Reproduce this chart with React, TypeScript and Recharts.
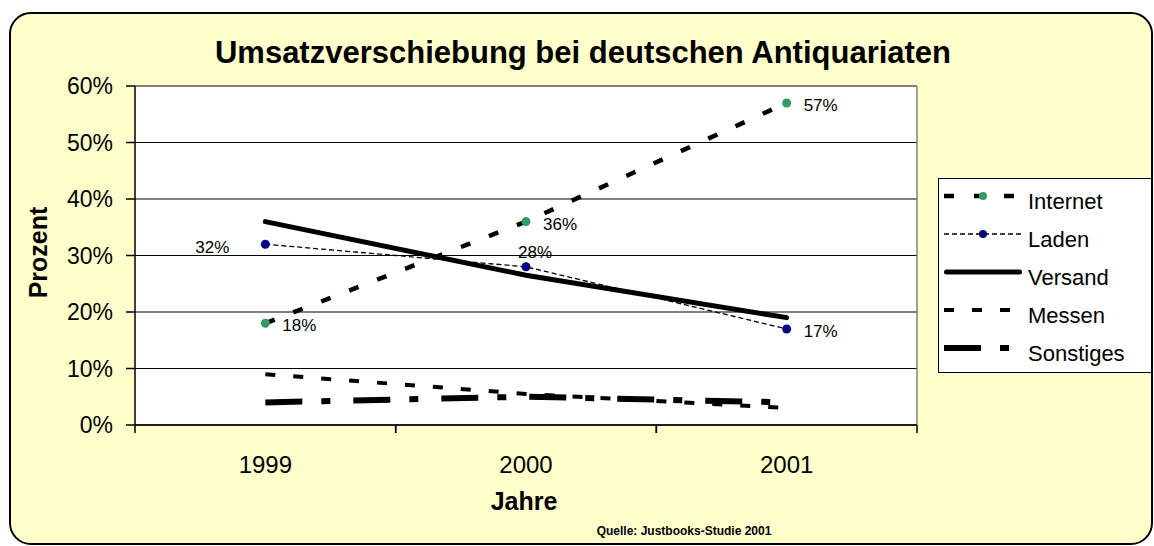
import React from 'react';
import { LineChart, Line, XAxis, YAxis, CartesianGrid, Legend, LabelList, ReferenceLine } from 'recharts';

const years = ['1999', '2000', '2001'];
const internet = [18, 36, 57];
const laden = [32, 28, 17];
const versand = [36, 26.5, 19];
const messen = [9, 5.5, 3];
const sonstiges = [4, 5, 4];
const yTicks = [0, 10, 20, 30, 40, 50, 60];
const seriesOrder = ['Internet', 'Laden', 'Versand', 'Messen', 'Sonstiges'];

const data = years.map((year, i) => ({
  year,
  Internet: internet[i],
  Laden: laden[i],
  Versand: versand[i],
  Messen: messen[i],
  Sonstiges: sonstiges[i],
}));

const FONT = '"Liberation Sans", Arial, sans-serif';

const seriesStyle: Record<string, { width: number; dash?: string; dot?: string; cap?: 'butt' | 'round' }> = {
  Internet: { width: 4.5, dash: '10 20', dot: '#339966' },
  Laden: { width: 1.3, dash: '5 3', dot: '#000080' },
  Versand: { width: 5, cap: 'round' },
  Messen: { width: 4, dash: '10 18' },
  Sonstiges: { width: 6, dash: '37 19 9 23' },
};

const XTick = (props: any) => {
  const { x, y, payload } = props;
  const half = payload && typeof payload.offset === 'number' ? payload.offset : 0;
  return (
    <g>
      <line x1={x - half} x2={x - half} y1={y} y2={y + 8} stroke="#000" strokeWidth={1.5} />
      <line x1={x + half} x2={x + half} y1={y} y2={y + 8} stroke="#000" strokeWidth={1.5} />
      <text x={x} y={y + 48} textAnchor="middle" fontSize={24} fontFamily={FONT} fill="#000">
        {payload.value}
      </text>
    </g>
  );
};

const pos = (p: any) => ({
  x: p.viewBox && typeof p.viewBox.x === 'number' ? p.viewBox.x : p.x,
  y: p.viewBox && typeof p.viewBox.y === 'number' ? p.viewBox.y : p.y,
});

const InternetLabel = (p: any) => {
  const { x, y } = pos(p);
  return (
    <text x={x + 17} y={y + 8} fontSize={17} fontFamily={FONT} fill="#000">
      {p.value}%
    </text>
  );
};

const LadenLabel = (p: any) => {
  const { x, y } = pos(p);
  const i = p.index;
  const cfg =
    i === 0
      ? { dx: -36, dy: 9, anchor: 'end' }
      : i === 1
      ? { dx: 9, dy: -9, anchor: 'middle' }
      : { dx: 17, dy: 8, anchor: 'start' };
  return (
    <text x={x + cfg.dx} y={y + cfg.dy} textAnchor={cfg.anchor as any} fontSize={17} fontFamily={FONT} fill="#000">
      {p.value}%
    </text>
  );
};

const LegendBox = (props: any) => {
  const items = [...(props.payload || [])].sort(
    (a: any, b: any) => seriesOrder.indexOf(a.value) - seriesOrder.indexOf(b.value)
  );
  return (
    <svg width={214} height={195} style={{ display: 'block' }}>
      <rect x={0.5} y={0.5} width={213} height={194} fill="#fff" stroke="#000" strokeWidth={1} />
      {items.map((it: any, i: number) => {
        const s = seriesStyle[it.value];
        const cy = 18 + 38 * i;
        const inset = s.cap === 'round' ? s.width / 2 : 0;
        return (
          <g key={it.value}>
            <line
              x1={6 + inset}
              x2={84 - inset}
              y1={cy}
              y2={cy}
              stroke="#000"
              strokeWidth={s.width}
              strokeDasharray={s.dash}
              strokeLinecap={s.cap || 'butt'}
            />
            {s.dot && <circle cx={45} cy={cy} r={4} fill={s.dot} />}
            <text x={90} y={cy + 13} fontSize={22} fontFamily={FONT} fill="#000">
              {it.value}
            </text>
          </g>
        );
      })}
    </svg>
  );
};

export default function App() {
  return (
    <div style={{ position: 'absolute', left: 0, top: 0, width: 1154, height: 546, overflow: 'hidden', fontFamily: FONT }}>
      <div
        style={{
          position: 'absolute',
          left: 9,
          top: 12,
          width: 1144,
          height: 533,
          boxSizing: 'border-box',
          border: '2px solid #000',
          borderRadius: 22,
          background: '#FFFFCC',
        }}
      />
      <div style={{ position: 'absolute', left: 0, top: 0 }}>
        <LineChart width={1154} height={546} data={data} margin={{ top: 86, right: 237, bottom: 0, left: 0 }}>
          <CartesianGrid vertical={false} stroke="#000" strokeWidth={1.2} fill="#fff" fillOpacity={1} />
          <CartesianGrid
            horizontal={false}
            stroke="#808080"
            strokeWidth={1.5}
            verticalCoordinatesGenerator={(p: any) => [p.offset.left + p.offset.width]}
          />
          <ReferenceLine y={60} stroke="#808080" strokeWidth={1.5} />
          <XAxis
            dataKey="year"
            scale="band"
            height={121}
            axisLine={{ stroke: '#000', strokeWidth: 1.5 }}
            tickLine={false}
            tickSize={0}
            tickMargin={0}
            interval={0}
            tick={<XTick />}
            label={{
              content: (p: any) => (
                <text
                  x={p.viewBox.x + p.viewBox.width / 2 - 2}
                  y={p.viewBox.y + 85}
                  textAnchor="middle"
                  fontSize={25}
                  fontWeight="bold"
                  fontFamily={FONT}
                  fill="#000"
                >
                  Jahre
                </text>
              ),
            }}
          />
          <YAxis
            width={135}
            domain={[0, 60]}
            ticks={yTicks}
            interval={0}
            tickFormatter={(v: number) => `${v}%`}
            axisLine={{ stroke: '#000', strokeWidth: 1.5 }}
            tickLine={{ stroke: '#000', strokeWidth: 1.5 }}
            tickSize={9}
            tickMargin={13}
            tick={{ fontSize: 23, fill: '#000', fontFamily: FONT }}
            label={{
              content: (p: any) => {
                const cx = 47;
                const cy = p.viewBox.y + p.viewBox.height / 2 - 3;
                return (
                  <text
                    x={cx}
                    y={cy}
                    transform={`rotate(-90 ${cx} ${cy})`}
                    textAnchor="middle"
                    fontSize={25}
                    fontWeight="bold"
                    fontFamily={FONT}
                    fill="#000"
                  >
                    Prozent
                  </text>
                );
              },
            }}
          />
          <Legend
            layout="vertical"
            align="center"
            verticalAlign="middle"
            wrapperStyle={{ left: 938, top: 178, width: 214, height: 195 }}
            content={<LegendBox />}
          />
          <Line
            dataKey="Messen"
            name="Messen"
            type="linear"
            stroke="#000"
            strokeWidth={seriesStyle.Messen.width}
            strokeDasharray={seriesStyle.Messen.dash}
            dot={false}
            activeDot={false}
            isAnimationActive={false}
          />
          <Line
            dataKey="Sonstiges"
            name="Sonstiges"
            type="linear"
            stroke="#000"
            strokeWidth={seriesStyle.Sonstiges.width}
            strokeDasharray={seriesStyle.Sonstiges.dash}
            dot={false}
            activeDot={false}
            isAnimationActive={false}
          />
          <Line
            dataKey="Versand"
            name="Versand"
            type="linear"
            stroke="#000"
            strokeWidth={seriesStyle.Versand.width}
            strokeLinecap="round"
            dot={false}
            activeDot={false}
            isAnimationActive={false}
          />
          <Line
            dataKey="Laden"
            name="Laden"
            type="linear"
            stroke="#000"
            strokeWidth={seriesStyle.Laden.width}
            strokeDasharray={seriesStyle.Laden.dash}
            dot={{ r: 4.5, fill: '#000080', stroke: '#000080', strokeWidth: 0, strokeDasharray: '0' }}
            activeDot={false}
            isAnimationActive={false}
          >
            <LabelList dataKey="Laden" content={<LadenLabel />} />
          </Line>
          <Line
            dataKey="Internet"
            name="Internet"
            type="linear"
            stroke="#000"
            strokeWidth={seriesStyle.Internet.width}
            strokeDasharray={seriesStyle.Internet.dash}
            dot={{ r: 4.5, fill: '#339966', stroke: '#339966', strokeWidth: 0, strokeDasharray: '0' }}
            activeDot={false}
            isAnimationActive={false}
          >
            <LabelList dataKey="Internet" content={<InternetLabel />} />
          </Line>
        </LineChart>
      </div>
      <div
        style={{
          position: 'absolute',
          left: 0,
          top: 36.5,
          width: 1166,
          textAlign: 'center',
          fontSize: 31,
          lineHeight: 1,
          fontWeight: 'bold',
          color: '#000',
          fontFamily: FONT,
          whiteSpace: 'nowrap',
        }}
      >
        Umsatzverschiebung bei deutschen Antiquariaten
      </div>
      <div
        style={{
          position: 'absolute',
          left: 384,
          top: 525,
          width: 600,
          textAlign: 'center',
          fontSize: 12,
          lineHeight: 1,
          fontWeight: 'bold',
          color: '#000',
          fontFamily: FONT,
          whiteSpace: 'nowrap',
        }}
      >
        Quelle: Justbooks-Studie 2001
      </div>
    </div>
  );
}
